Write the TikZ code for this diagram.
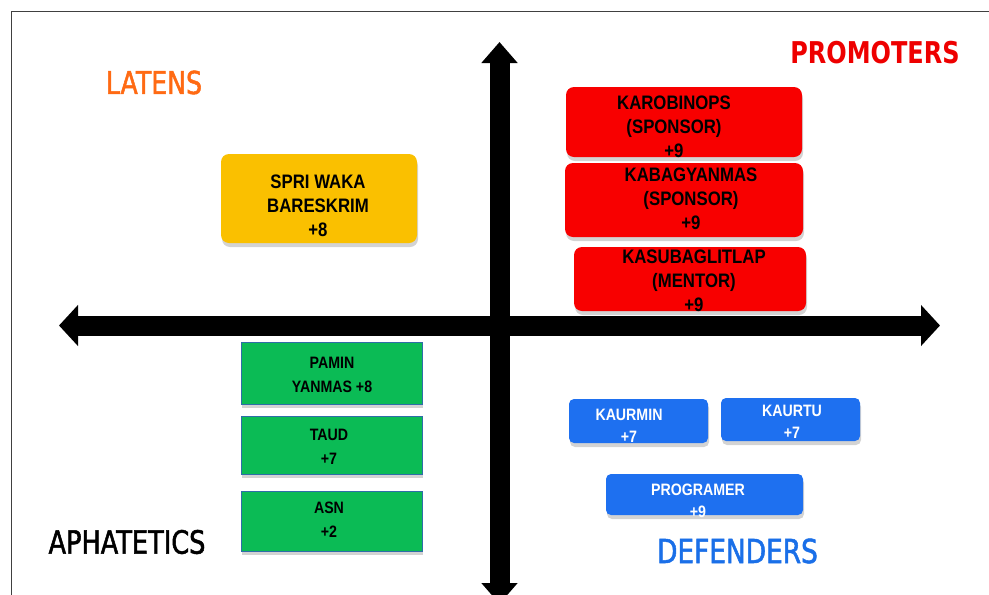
\documentclass[tikz,border=0pt]{standalone}
\usepackage{fontspec}
\setmainfont{Liberation Sans}
\newfontfamily\boxfont[FakeStretch=0.86]{Liberation Sans}
\newfontfamily\quadfont[FakeStretch=0.8, FakeBold=1.6]{DejaVu Sans}
\newfontfamily\promofont[FakeStretch=0.8]{DejaVu Sans}
\usetikzlibrary{arrows.meta, shadows}

\definecolor{latenscol}{HTML}{FF6A13}
\definecolor{promocol}{HTML}{EE0000}
\definecolor{defcol}{HTML}{1A6FE8}
\definecolor{yellowcol}{HTML}{FAC000}
\definecolor{redcol}{HTML}{F80000}
\definecolor{greencol}{HTML}{0BBB55}
\definecolor{greenedge}{HTML}{2F6DA8}
\definecolor{bluecol}{HTML}{1E70F0}

\begin{document}
\begin{tikzpicture}[x=1pt, y=-1pt,
    axis/.style={line width=20pt, black},
    quad/.style={inner sep=0pt, font=\quadfont\fontsize{31.5}{36}\selectfont},
    card/.style={inner sep=0pt, drop shadow={shadow xshift=1pt, shadow yshift=-4pt, opacity=0.35}},
    yellowbox/.style={card, fill=yellowcol, rounded corners=8pt},
    redbox/.style={card, fill=redcol, rounded corners=8pt},
    greenbox/.style={card, fill=greencol, draw=greenedge, line width=1pt},
    bluebox/.style={card, fill=bluecol, rounded corners=5pt},
    bigtxt/.style={inner sep=0pt, align=center, font=\boxfont\bfseries\fontsize{19.5}{24}\selectfont},
    greentxt/.style={inner sep=0pt, align=center, font=\boxfont\bfseries\fontsize{16.5}{24}\selectfont},
    bluetxt/.style={inner sep=0pt, align=center, text=white, font=\boxfont\bfseries\fontsize{16.5}{22}\selectfont}]
      \useasboundingbox (0,0) rectangle (989,595);

      % frame of the slide
      \coordinate (frameBL) at (11.5,600);
      \coordinate (frameTR) at (995,11.5);
      \draw[black!75, line width=1pt] (frameBL) |- (frameTR);

      % axes
      \coordinate (west) at (59,325.5);
      \coordinate (east) at (940,325.5);
      \coordinate (north) at (499.5,42);
      \coordinate (south) at (499.5,604);
      \draw[axis, {Triangle[length=19pt,width=40pt]}-{Triangle[length=19pt,width=40pt]}] (west) -- (east);
      \draw[axis, {Triangle[length=21pt,width=35pt]}-{Triangle[length=21pt,width=35pt]}] (north) -- (south);

      % quadrant names
      \node[quad, text=latenscol] (latens) at (154,82.5) {LATENS};
      \node[quad, text=promocol, font=\promofont\bfseries\fontsize{30}{36}\selectfont] (promoters) at (875,53) {PROMOTERS};
      \node[quad, font=\quadfont\fontsize{32}{36}\selectfont] (aphatetics) at (127,542) {APHATETICS};
      \node[quad, text=defcol, font=\quadfont\fontsize{33}{36}\selectfont] (defenders) at (737.5,551) {DEFENDERS};

      % Latens
      \node[yellowbox, minimum width=196, minimum height=89] (spri) at (319,198.5) {};
      \node[bigtxt] (spritext) at (318,206) {SPRI WAKA\\BARESKRIM\\+8};

      % Promoters
      \node[redbox, minimum width=236, minimum height=70] (karo) at (684,122) {};
      \node[bigtxt] (karotext) at (674,127) {KAROBINOPS\\(SPONSOR)\\+9};
      \node[redbox, minimum width=238, minimum height=74] (kabag) at (684,200) {};
      \node[bigtxt] (kabagtext) at (691,199) {KABAGYANMAS\\(SPONSOR)\\+9};
      \node[redbox, minimum width=232, minimum height=64] (kasubag) at (690,279) {};
      \node[bigtxt] (kasubagtext) at (694,281) {KASUBAGLITLAP\\(MENTOR)\\+9};

      % Aphatetics
      \node[greenbox, minimum width=181, minimum height=62] (pamin) at (331.5,373) {};
      \node[greentxt] (pamintext) at (332,374.5) {PAMIN\\YANMAS +8};
      \node[greenbox, minimum width=181, minimum height=58] (taud) at (331.5,445) {};
      \node[greentxt] (taudtext) at (329,447) {TAUD\\+7};
      \node[greenbox, minimum width=181, minimum height=60] (asn) at (331.5,521) {};
      \node[greentxt] (asntext) at (329,519.5) {ASN\\+2};

      % Defenders
      \node[bluebox, minimum width=139, minimum height=44] (kaurmin) at (638.5,421) {};
      \node[bluetxt] (kaurmintext) at (629,426) {KAURMIN\\+7};
      \node[bluebox, minimum width=139, minimum height=43] (kaurtu) at (790.5,419.5) {};
      \node[bluetxt] (kaurtutext) at (792,422) {KAURTU\\+7};
      \node[bluebox, minimum width=197, minimum height=41] (prog) at (704.5,494.5) {};
      \node[bluetxt] (progtext) at (698,500.5) {PROGRAMER\\+9};
\end{tikzpicture}
\end{document}
